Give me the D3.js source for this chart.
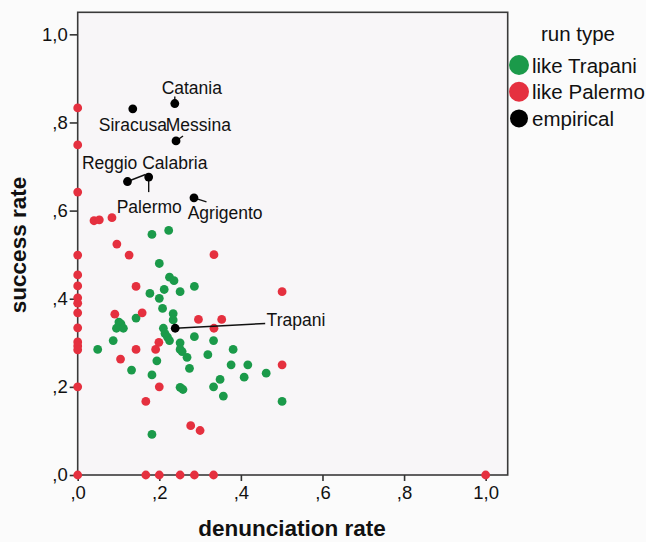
<!DOCTYPE html>
<html>
<head>
<meta charset="utf-8">
<script src="https://cdn.jsdelivr.net/npm/d3@7"></script>
<style>
  html, body { margin: 0; padding: 0; background: #fbfbfb; }
  svg { display: block; font-family: "Liberation Sans", Arial, sans-serif; }
</style>
</head>
<body>
<div id="chart"></div>
<script>
// run type "like Trapani" (denunciation rate, success rate)
var trapaniX = [0.182, 0.223, 0.200, 0.225, 0.236, 0.177, 0.212, 0.251, 0.286, 0.200,
                0.208, 0.234, 0.234, 0.143, 0.101, 0.106, 0.095, 0.112, 0.087, 0.049,
                0.210, 0.214, 0.220, 0.225, 0.251, 0.251, 0.256, 0.286, 0.333, 0.381,
                0.319, 0.268, 0.194, 0.274, 0.376, 0.417, 0.132, 0.182, 0.462, 0.408,
                0.349, 0.251, 0.258, 0.333, 0.357, 0.501, 0.182];
var trapaniY = [0.546, 0.555, 0.480, 0.449, 0.441, 0.412, 0.421, 0.416, 0.428, 0.401,
                0.378, 0.366, 0.352, 0.356, 0.347, 0.343, 0.333, 0.333, 0.305, 0.285,
                0.333, 0.321, 0.313, 0.305, 0.300, 0.285, 0.280, 0.314, 0.305, 0.285,
                0.273, 0.267, 0.259, 0.242, 0.250, 0.250, 0.238, 0.227, 0.231, 0.222,
                0.217, 0.199, 0.194, 0.200, 0.179, 0.167, 0.092];

// run type "like Palermo"
var palermoX = [0.040, 0.053, 0.084, 0.096, 0.126, 0.334, 0.143, 0.501, 0.091, 0.158,
                0.296, 0.353, 0.334, 0.199, 0.191, 0.143, 0.105, 0.501, 0.200, 0.167,
                0.277, 0.300,
                0, 0, 0, 0, 0, 0, 0, 0, 0, 0, 0, 0, 0, 0, 0,
                0.167, 0.200, 0.251, 0.286, 0.333, 1.0];
var palermoY = [0.577, 0.579, 0.584, 0.524, 0.499, 0.500, 0.428, 0.416, 0.365, 0.368,
                0.353, 0.353, 0.333, 0.301, 0.285, 0.285, 0.263, 0.250, 0.200, 0.167,
                0.112, 0.101,
                0.833, 0.749, 0.642, 0.499, 0.454, 0.429, 0.402, 0.390, 0.368, 0.334,
                0.302, 0.293, 0.284, 0.200, 0,
                0, 0, 0, 0, 0, 0];

// empirical provinces
var cities = ["Catania", "Siracusa", "Messina", "Reggio Calabria", "Palermo", "Agrigento", "Trapani"];
var cityX = [0.238, 0.135, 0.241, 0.122, 0.174, 0.285, 0.239];
var cityY = [0.843, 0.831, 0.758, 0.666, 0.676, 0.629, 0.333];

var ticks = [0, 0.2, 0.4, 0.6, 0.8, 1.0];
var legendNames = ["like Trapani", "like Palermo", "empirical"];

// label placement (pixel offsets from the point): text start, leader end
var labelPos = {
    "Catania":         { tx: 17,  ty: -10, anchor: "middle", lx: 0,   ly: -7 },
    "Siracusa":        { tx: -34, ty: 22,  anchor: "start",  lx: null },
    "Messina":         { tx: -10.3, ty: -10, anchor: "start", lx: 7,  ly: -5 },
    "Reggio Calabria": { tx: -45.6, ty: -12.4, anchor: "start", lx: 18, ly: -7 },
    "Palermo":         { tx: -32, ty: 35.5, anchor: "start", lx: 0,   ly: 15 },
    "Agrigento":       { tx: -6.3, ty: 21, anchor: "start",  lx: 12.5, ly: 4 },
    "Trapani":         { tx: 91.4, ty: -2.6, anchor: "start", lx: 90, ly: -4.8 }
};

var green = "#1b9a4a", red = "#e5303f", black = "#000";
var width = 646, height = 542;

var svg = d3.select("#chart").append("svg")
    .attr("width", width)
    .attr("height", height);

var x = d3.scaleLinear().domain([0, 1.054]).range([77.7, 507.7]);
var y = d3.scaleLinear().domain([0, 1.05]).range([475, 12.3]);

var fmt = function (d) {
    return d3.format(".1f")(d).replace(/^0/, "").replace(".", ",");
};

// plot frame
svg.append("rect")
    .attr("x", x(0)).attr("y", y(1.05))
    .attr("width", x(1.054) - x(0)).attr("height", y(0) - y(1.05))
    .style("fill", "#f8f6f8")
    .style("stroke", "#3a3a3a")
    .style("stroke-width", 1.6);

var xAxis = svg.append("g")
    .attr("transform", "translate(0," + y(0) + ")")
    .call(d3.axisBottom(x).tickValues(ticks).tickFormat(fmt).tickSize(6).tickPadding(5).tickSizeOuter(0));

var yAxis = svg.append("g")
    .attr("transform", "translate(" + x(0) + ",0)")
    .call(d3.axisLeft(y).tickValues(ticks).tickFormat(fmt).tickSize(8).tickPadding(2).tickSizeOuter(0));

[xAxis, yAxis].forEach(function (a) {
    a.select(".domain").remove();
    a.selectAll("line").style("stroke", "#333").style("stroke-width", 1.6);
    a.selectAll("text")
        .style("font-family", "'Liberation Sans', Arial, sans-serif")
        .style("font-size", "18.5px")
        .style("fill", "#111");
});

// axis titles
svg.append("text")
    .attr("x", 292).attr("y", 536)
    .attr("text-anchor", "middle")
    .style("font-size", "22.5px").style("font-weight", "bold").style("fill", "#111")
    .text("denunciation rate");

svg.append("text")
    .attr("transform", "translate(26,245) rotate(-90)")
    .attr("text-anchor", "middle")
    .style("font-size", "22.5px").style("font-weight", "bold").style("fill", "#111")
    .text("success rate");

// points
var r = 4.4;
svg.append("g").selectAll("circle")
    .data(d3.range(trapaniX.length))
    .enter().append("circle")
    .attr("cx", function (i) { return x(trapaniX[i]); })
    .attr("cy", function (i) { return y(trapaniY[i]); })
    .attr("r", r)
    .style("fill", green);

svg.append("g").selectAll("circle")
    .data(d3.range(palermoX.length))
    .enter().append("circle")
    .attr("cx", function (i) { return x(palermoX[i]); })
    .attr("cy", function (i) { return y(palermoY[i]); })
    .attr("r", r)
    .style("fill", red);

// empirical points, leader lines and labels
var emp = svg.append("g").selectAll("g")
    .data(cities)
    .enter().append("g")
    .attr("transform", function (d, i) {
        return "translate(" + x(cityX[i]) + "," + y(cityY[i]) + ")";
    });

emp.filter(function (d) { return labelPos[d].lx !== null; })
    .append("line")
    .attr("x1", 0).attr("y1", 0)
    .attr("x2", function (d) { return labelPos[d].lx; })
    .attr("y2", function (d) { return labelPos[d].ly; })
    .style("stroke", "#111")
    .style("stroke-width", 1.4);

emp.append("circle")
    .attr("r", r)
    .style("fill", black);

emp.append("text")
    .attr("x", function (d) { return labelPos[d].tx; })
    .attr("y", function (d) { return labelPos[d].ty; })
    .attr("text-anchor", function (d) { return labelPos[d].anchor; })
    .style("font-size", "17.5px")
    .style("fill", "#111")
    .text(function (d) { return d; });

// legend
var legend = svg.append("g");
legend.append("text")
    .attr("x", 578).attr("y", 40.5)
    .attr("text-anchor", "middle")
    .style("font-size", "20.5px").style("fill", "#111")
    .text("run type");

var legendColor = [green, red, black];
var row = legend.selectAll("g.row")
    .data(legendNames)
    .enter().append("g")
    .attr("class", "row")
    .attr("transform", function (d, i) { return "translate(519," + (65 + i * 26.7) + ")"; });

row.append("circle")
    .attr("r", function (d, i) { return i === 2 ? 9 : 10; })
    .style("fill", function (d, i) { return legendColor[i]; });

row.append("text")
    .attr("x", 13).attr("y", 7.5)
    .style("font-size", "20.5px").style("fill", "#111")
    .text(function (d) { return d; });
</script>
</body>
</html>
